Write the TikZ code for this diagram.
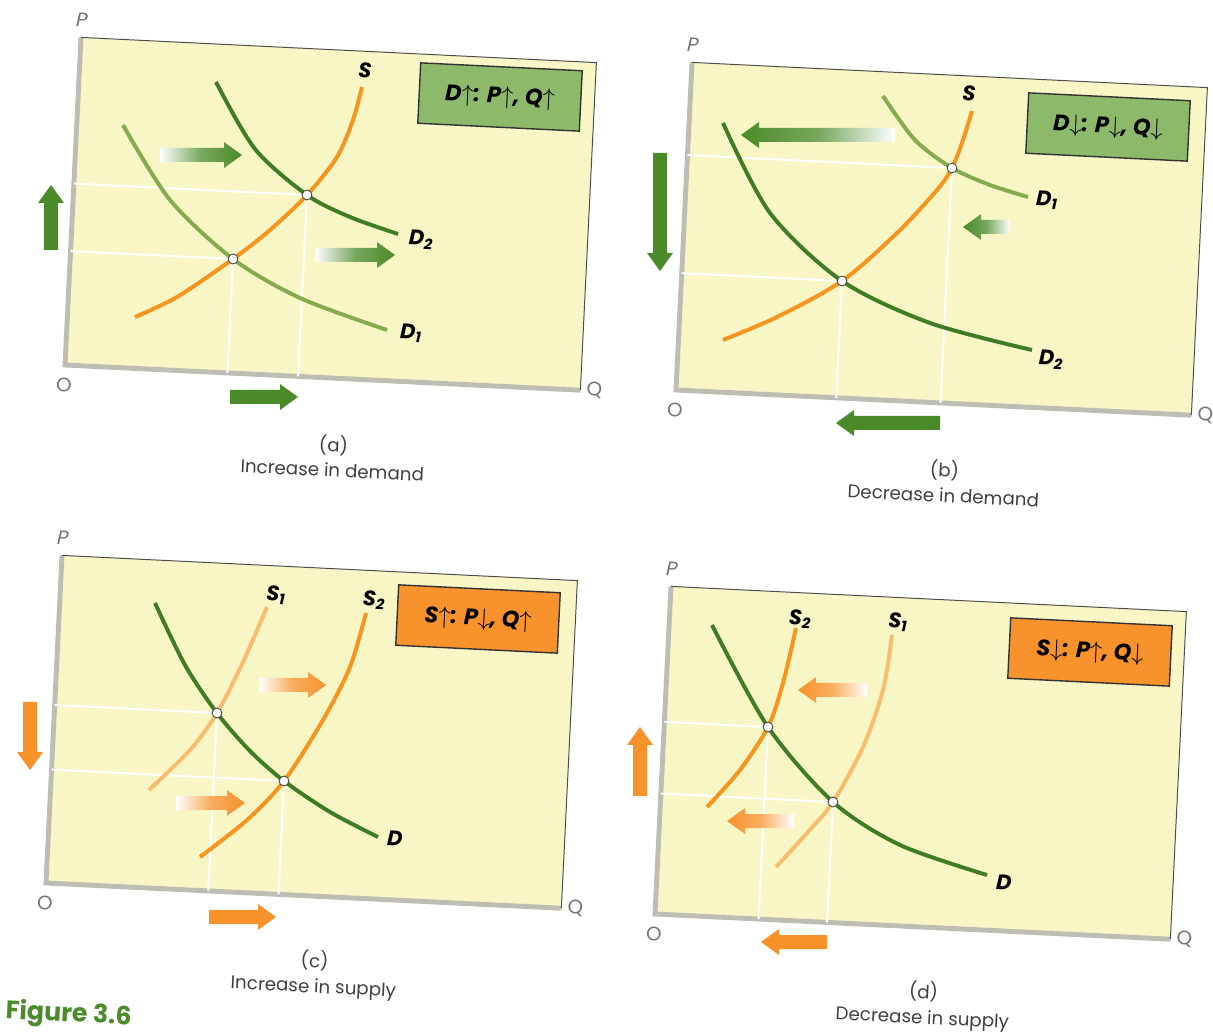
\documentclass[tikz,border=0pt]{standalone}
\usepackage{fontspec}
\setmainfont{Poppins}
\usepackage{tikz}
\usetikzlibrary{calc}
\definecolor{panel}{HTML}{F8F6C4}
\definecolor{edge}{HTML}{BDBDB4}
\definecolor{dgreen}{HTML}{3E7D23}
\definecolor{lgreen}{HTML}{86AB4F}
\definecolor{boxgreen}{HTML}{8DB96A}
\definecolor{arrgreen}{HTML}{4A8A28}
\definecolor{dorange}{HTML}{F7941E}
\definecolor{lorange}{HTML}{F9BC6C}
\definecolor{boxorange}{HTML}{F7922D}
\definecolor{arrorange}{HTML}{F7922B}
\definecolor{figgreen}{HTML}{4B8B2B}
\newcommand{\hblock}[4][]{%
  \pgfmathsetmacro{\hd}{18*sign(#4)}%
  \path[#1] (#2,#3) ++(0,-7) -- ++({#4-(\hd)},0) -- ++(0,-6) -- ++(\hd,13)
    -- ++({-(\hd)},13) -- ++(0,-6) -- ++({(\hd)-(#4)},0) -- cycle;}
\newcommand{\vblock}[4][]{%
  \pgfmathsetmacro{\hd}{18*sign(#4)}%
  \path[#1] (#2,#3) ++(-7,0) -- ++(0,{#4-(\hd)}) -- ++(-6,0) -- ++(13,\hd)
    -- ++(13,{-(\hd)}) -- ++(-6,0) -- ++(0,{(\hd)-(#4)}) -- cycle;}

\begin{document}
\begin{tikzpicture}[x=0.025cm, y=-0.025cm, every node/.style={rotate=-2.8},
  curve/.style={line width=2.8pt},
  guide/.style={white, line width=1.4pt},
  eqdot/.style={circle, fill=white, draw=black!75, line width=0.6pt, inner sep=0pt, minimum size=7pt},
  curvelab/.style={font=\fontsize{15}{18}\selectfont\bfseries\itshape},
  axislab/.style={font=\fontsize{14}{16}\selectfont, text=black!55},
  caplab/.style={font=\fontsize{13}{18}\selectfont, text=black!75, align=center},
  eqbox/.style={draw=black!80, line width=1pt, minimum width=115pt, minimum height=43pt,
    font=\fontsize{16}{18}\selectfont\bfseries\itshape},
  shiftg/.style={left color=white, right color=arrgreen, middle color=arrgreen!75},
  shiftgl/.style={right color=white, left color=arrgreen, middle color=arrgreen!75},
  shifto/.style={left color=white, right color=arrorange, middle color=arrorange!75},
  shiftol/.style={right color=white, left color=arrorange, middle color=arrorange!75},
  solidg/.style={fill=arrgreen},
  solido/.style={fill=arrorange}]
  \useasboundingbox (0,0) rectangle (1213,1036);
  \foreach \p/\bx/\by/\cap in {a/65/365/{(a)\\Increase in demand}, b/676/390/{(b)\\Decrease in demand},
    c/46/883/{(c)\\Increase in supply}, d/655/914/{(d)\\Decrease in supply}}{
    \begin{scope}[shift={(\bx,\by)}, rotate=-2.8]
      \coordinate (\p-BL) at (0,0);
      \coordinate (\p-BR) at (516,0);
      \coordinate (\p-TR) at (516,-328);
      \coordinate (\p-TL) at (0,-328);
    \end{scope}
    \fill[panel] (\p-BL) -- (\p-BR) -- (\p-TR) -- (\p-TL) -- cycle;
    \draw[edge, line width=3.5pt] (\p-TL) -- (\p-BL) -- (\p-BR);
    \draw[black!70, line width=0.7pt] (\p-TL) -- (\p-TR) -- (\p-BR);
    \node[axislab, font=\fontsize{14}{16}\selectfont\itshape] (\p-P) at ($(\p-TL)+(1,-17)$) {P};
    \node[axislab] (\p-O) at ($(\p-BL)+(-1,20)$) {O};
    \node[axislab] (\p-Q) at ($(\p-BR)+(14,0)$) {Q};
    \node[caplab] (\p-cap) at ($(\p-BL)+(268,91)$) {\cap};
  }

  \coordinate (a-e1) at (233,259);
  \coordinate (a-e2) at (307,195);
  \draw[guide] ($(a-TL)!(a-e1)!(a-BL)$) -- (a-e1) -- ($(a-BL)!(a-e1)!(a-BR)$);
  \draw[guide] ($(a-TL)!(a-e2)!(a-BL)$) -- (a-e2) -- ($(a-BL)!(a-e2)!(a-BR)$);
  \draw[curve, lgreen] plot[smooth] coordinates {(123,125) (170,200) (a-e1) (300,298) (387,330)};
  \draw[curve, dgreen] plot[smooth] coordinates {(216,82) (255,149) (a-e2) (350,217) (398,234)};
  \draw[curve, dorange] plot[smooth] coordinates {(135,317) (177,297) (a-e1) (270,230) (a-e2) (337,157) (353,120) (362,87)};
  \node[eqdot] (a-d1) at (a-e1) {};
  \node[eqdot] (a-d2) at (a-e2) {};
  \node[curvelab] (a-S) at (365,70) {S};
  \node[curvelab] (a-D2) at (421,240) {D\textsubscript{2}};
  \node[curvelab] (a-D1) at (411,333) {D\textsubscript{1}};
  \node[eqbox, fill=boxgreen] (a-box) at (500,97) {D$\uparrow$: P$\uparrow$, Q$\uparrow$};
  \hblock[shiftg]{160}{155}{82}
  \hblock[shiftg]{315}{255}{80}
  \vblock[solidg]{51}{250}{-65}
  \hblock[solidg]{230}{397}{68}

  \coordinate (b-e1) at (952,168);
  \coordinate (b-e2) at (842,281);
  \draw[guide] ($(b-TL)!(b-e1)!(b-BL)$) -- (b-e1) -- ($(b-BL)!(b-e1)!(b-BR)$);
  \draw[guide] ($(b-TL)!(b-e2)!(b-BL)$) -- (b-e2) -- ($(b-BL)!(b-e2)!(b-BR)$);
  \draw[curve, lgreen] plot[smooth] coordinates {(883,96) (915,140) (b-e1) (990,185) (1028,197)};
  \draw[curve, dgreen] plot[smooth] coordinates {(723,123) (770,213) (b-e2) (930,323) (1032,350)};
  \draw[curve, dorange] plot[smooth] coordinates {(723,340) (777,317) (b-e2) (897,233) (937,190) (b-e1) (963,140) (972,111)};
  \node[eqdot] (b-d1) at (b-e1) {};
  \node[eqdot] (b-d2) at (b-e2) {};
  \node[curvelab] (b-S) at (969,93) {S};
  \node[curvelab] (b-D1) at (1047,200) {D\textsubscript{1}};
  \node[curvelab] (b-D2) at (1051,360) {D\textsubscript{2}};
  \node[eqbox, fill=boxgreen] (b-box) at (1108,127) {D$\downarrow$: P$\downarrow$, Q$\downarrow$};
  \hblock[shiftgl]{895}{135}{-154}
  \hblock[shiftgl]{1010}{227}{-47}
  \vblock[solidg]{660}{153}{118}
  \hblock[solidg]{940}{423}{-104}

  \coordinate (c-e1) at (217,713);
  \coordinate (c-e2) at (284,781);
  \draw[guide] ($(c-TL)!(c-e1)!(c-BL)$) -- (c-e1) -- ($(c-BL)!(c-e1)!(c-BR)$);
  \draw[guide] ($(c-TL)!(c-e2)!(c-BL)$) -- (c-e2) -- ($(c-BL)!(c-e2)!(c-BR)$);
  \draw[curve, lorange] plot[smooth] coordinates {(149,790) (190,750) (c-e1) (243,662) (267,607)};
  \draw[curve, dorange] plot[smooth] coordinates {(200,857) (247,820) (c-e2) (323,720) (350,667) (366,613)};
  \draw[curve, dgreen] plot[smooth] coordinates {(155,603) (185,665) (c-e1) (250,751) (c-e2) (330,812) (378,837)};
  \node[eqdot] (c-d1) at (c-e1) {};
  \node[eqdot] (c-d2) at (c-e2) {};
  \node[curvelab] (c-S1) at (276,595) {S\textsubscript{1}};
  \node[curvelab] (c-S2) at (374,600) {S\textsubscript{2}};
  \node[curvelab] (c-D) at (395,838) {D};
  \node[eqbox, fill=boxorange] (c-box) at (478,619) {S$\uparrow$: P$\downarrow$, Q$\uparrow$};
  \hblock[shifto]{259}{685}{67}
  \hblock[shifto]{176}{803}{69}
  \vblock[solido]{30}{702}{68}
  \hblock[solido]{209}{917}{67}

  \coordinate (d-e1) at (768,727);
  \coordinate (d-e2) at (833,802);
  \draw[guide] ($(d-TL)!(d-e1)!(d-BL)$) -- (d-e1) -- ($(d-BL)!(d-e1)!(d-BR)$);
  \draw[guide] ($(d-TL)!(d-e2)!(d-BL)$) -- (d-e2) -- ($(d-BL)!(d-e2)!(d-BR)$);
  \draw[curve, lorange] plot[smooth] coordinates {(776,867) (807,833) (d-e2) (863,747) (883,690) (892,635)};
  \draw[curve, dorange] plot[smooth] coordinates {(707,807) (740,770) (d-e1) (783,683) (796,628)};
  \draw[curve, dgreen] plot[smooth] coordinates {(712,625) (d-e1) (d-e2) (900,845) (987,875)};
  \node[eqdot] (d-d1) at (d-e1) {};
  \node[eqdot] (d-d2) at (d-e2) {};
  \node[curvelab] (d-S2) at (800,619) {S\textsubscript{2}};
  \node[curvelab] (d-S1) at (898,622) {S\textsubscript{1}};
  \node[curvelab] (d-D) at (1004,882) {D};
  \node[eqbox, fill=boxorange] (d-box) at (1090,652) {S$\downarrow$: P$\uparrow$, Q$\downarrow$};
  \hblock[shiftol]{867}{690}{-69}
  \hblock[shiftol]{794}{821}{-67}
  \vblock[solido]{640}{796}{-69}
  \hblock[solido]{827}{942}{-66}

  \node[anchor=west, inner sep=1pt, font=\fontsize{18}{22}\selectfont\bfseries, text=figgreen] (fig) at (4,1012) {Figure 3.6};
\end{tikzpicture}
\end{document}
